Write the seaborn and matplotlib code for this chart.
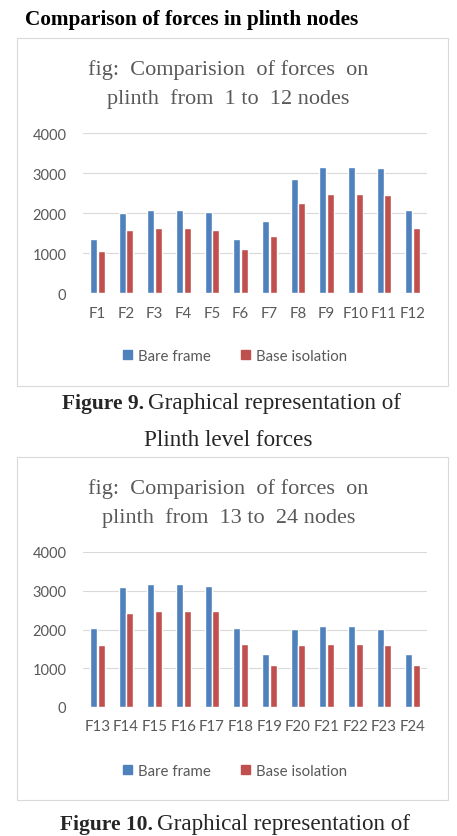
import pandas as pd
import seaborn as sns
import matplotlib.pyplot as plt
from matplotlib.patches import Rectangle

sns.set_theme(style="white")
plt.rcParams['font.family'] = ['DejaVu Sans']

# Data
nodes_a = ["F1", "F2", "F3", "F4", "F5", "F6", "F7", "F8", "F9", "F10", "F11", "F12"]
bare_a = [1360, 2000, 2080, 2080, 2030, 1360, 1810, 2850, 3150, 3150, 3125, 2080]
iso_a = [1050, 1580, 1630, 1630, 1580, 1110, 1430, 2260, 2480, 2480, 2450, 1630]

nodes_b = ["F13", "F14", "F15", "F16", "F17", "F18", "F19", "F20", "F21", "F22", "F23", "F24"]
bare_b = [2050, 3100, 3180, 3180, 3130, 2050, 1380, 2020, 2100, 2100, 2020, 1380]
iso_b = [1610, 2430, 2490, 2490, 2490, 1630, 1090, 1610, 1630, 1630, 1610, 1090]

series = ["Bare frame", "Base isolation"]
colors = ["#4F81BD", "#C0504D"]
yticks = [0, 1000, 2000, 3000, 4000]

W, H = 457, 837
fig = plt.figure(figsize=(W / 100, H / 100), dpi=100)
fig.patch.set_facecolor("white")


def fx(px):
    return px / W


def fy(py):
    return 1 - py / H


serif = "Liberation Serif"
sans = "Lato"
grey = "#595959"

fig.text(fx(25), fy(20), "Comparison of forces in plinth nodes", family=serif,
         weight="bold", fontsize=15.3, va="center", ha="left", color="black")


def chart(box_top, box_bot, title1, title2, t_y, ax_top, ax_bot, leg_y,
          nodes, bare, iso):
    fig.patches.append(Rectangle((fx(17), fy(box_bot)), fx(448) - fx(17),
                                 fy(box_top) - fy(box_bot), transform=fig.transFigure,
                                 fill=False, edgecolor="#D9D9D9", lw=0.8))
    fig.text(0.5, fy(t_y), title1, family=serif, fontsize=16, color="#595959",
             ha="center", va="center")
    fig.text(0.5, fy(t_y + 29), title2, family=serif, fontsize=16, color="#595959",
             ha="center", va="center")
    ax = fig.add_axes([fx(83), fy(ax_bot), fx(427) - fx(83), fy(ax_top) - fy(ax_bot)])
    df = pd.DataFrame({"node": nodes * 2,
                       "force": bare + iso,
                       "series": [series[0]] * len(nodes) + [series[1]] * len(nodes)})
    sns.barplot(data=df, x="node", y="force", hue="series", palette=colors,
                width=0.52, gap=0.05, ax=ax, legend=False, saturation=1)
    ax.set_ylim(0, 4000)
    ax.set_xlim(-0.5, len(nodes) - 0.5)
    ax.set_yticks(yticks)
    ax.yaxis.grid(True, color="#D9D9D9", lw=0.8)
    ax.set_axisbelow(True)
    for s in ax.spines.values():
        s.set_visible(False)
    ax.set_xlabel("")
    ax.set_ylabel("")
    ax.tick_params(axis="y", length=0, pad=12, labelsize=10.5, labelcolor=grey)
    ax.tick_params(axis="x", length=0, pad=9, labelsize=10.8, labelcolor=grey)
    for lab in ax.get_xticklabels() + ax.get_yticklabels():
        lab.set_family(sans)
    # legend
    handles = [Rectangle((0, 0), 1, 1, color=c) for c in colors]
    fig.legend(handles, series, loc="center", bbox_to_anchor=(fx(235), fy(leg_y)),
               ncol=2, frameon=False, prop={"family": sans, "size": 10.8},
               handlelength=0.6, handleheight=0.6, handletextpad=0.4,
               columnspacing=2.0, labelcolor=grey)
    return ax


chart(39, 387, "fig:  Comparision  of forces  on", "plinth  from  1 to  12 nodes",
      70, 134, 294, 357, nodes_a, bare_a, iso_a)
chart(458, 801, "fig:  Comparision  of forces  on", "plinth  from  13 to  24 nodes",
      489, 553, 708, 772, nodes_b, bare_b, iso_b)

# captions
fig.text(fx(144), fy(404), "Figure 9.", family=serif, weight="bold", fontsize=15.5,
         ha="right", va="center")
fig.text(fx(148), fy(404), "Graphical representation of", family=serif, fontsize=16.7,
         ha="left", va="center")
fig.text(0.5, fy(440), "Plinth level forces", family=serif, fontsize=16.7,
         ha="center", va="center")
fig.text(fx(153), fy(825), "Figure 10.", family=serif, weight="bold", fontsize=15.5,
         ha="right", va="center")
fig.text(fx(157), fy(825), "Graphical representation of", family=serif, fontsize=16.7,
         ha="left", va="center")

fig.savefig("out.png", dpi=100)
